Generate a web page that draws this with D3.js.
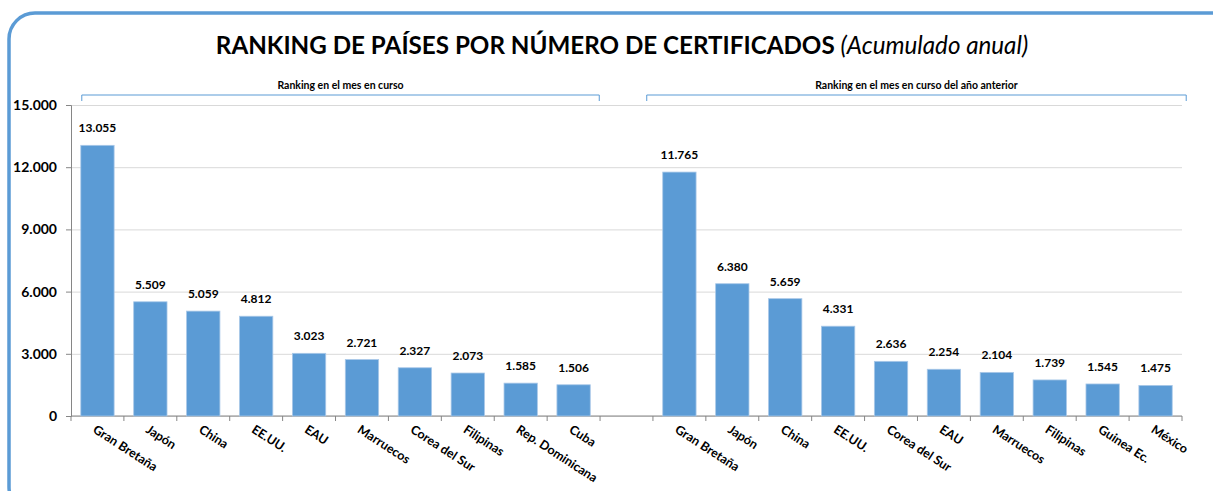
<html>
<head>
  <script src="https://d3js.org/d3.v7.min.js"></script>
  <style>
    body { margin: 0; background: white; }
    text { font-family: Lato, "Open Sans", sans-serif; }
    .gridlines line { stroke: #d9d9d9; }
    .gridlines .domain { stroke: none; }
    .axis path, .axis line { stroke: #868686; }
    .axis text { font-weight: bold; fill: black; }
  </style>
</head>
<body>
<svg id="chart" width="1213" height="491"></svg>
<script>
  // current year ranking
  const countriesNow = ["Gran Bretaña", "Japón", "China", "EE.UU.", "EAU", "Marruecos", "Corea del Sur", "Filipinas", "Rep. Dominicana", "Cuba"];
  const valuesNow = [13055, 5509, 5059, 4812, 3023, 2721, 2327, 2073, 1585, 1506];
  // same month, previous year
  const countriesPrev = ["Gran Bretaña", "Japón", "China", "EE.UU.", "Corea del Sur", "EAU", "Marruecos", "Filipinas", "Guinea Ec.", "México"];
  const valuesPrev = [11765, 6380, 5659, 4331, 2636, 2254, 2104, 1739, 1545, 1475];
  const yTicks = [0, 3000, 6000, 9000, 12000, 15000];
  const groupLabels = ["Ranking en el mes en curso", "Ranking en el mes en curso del año anterior"];

  const svg = d3.select("svg#chart");
  const es = d3.formatLocale({ decimal: ",", thousands: ".", grouping: [3], currency: ["", "€"] });
  const fmt = es.format(",d");

  // one band per bar, plus an empty slot between the two groups
  const rows = [];
  countriesNow.forEach((c, i) => rows.push({ key: "a" + i, name: c, value: valuesNow[i], group: 0 }));
  rows.push({ key: "gap", name: "", value: null, group: -1 });
  countriesPrev.forEach((c, i) => rows.push({ key: "b" + i, name: c, value: valuesPrev[i], group: 1 }));

  const xScale = d3.scaleBand().domain(rows.map(d => d.key)).range([71, 1182]).paddingInner(0.37).paddingOuter(0.185);
  const yScale = d3.scaleLinear().domain([0, 15000]).range([416, 105]);

  // outer rounded frame
  svg.append("rect")
    .attr("x", 9).attr("y", 13)
    .attr("width", 1240).attr("height", 500)
    .attr("rx", 26)
    .attr("fill", "none")
    .attr("stroke", "#5b9bd5")
    .attr("stroke-width", 3.5);

  // title
  const title = svg.append("text")
    .attr("x", 622).attr("y", 54)
    .attr("text-anchor", "middle")
    .style("font-size", "24.2px");
  title.append("tspan").attr("font-weight", "bold").text("RANKING DE PAÍSES POR NÚMERO DE CERTIFICADOS ");
  title.append("tspan").attr("font-style", "italic").text("(Acumulado anual)");

  // gridlines
  svg.append("g")
    .attr("class", "gridlines")
    .attr("transform", "translate(71,0)")
    .call(d3.axisLeft(yScale).tickValues(yTicks).tickSize(-1111).tickFormat(""));

  // y axis
  const yAxis = svg.append("g")
    .attr("class", "axis")
    .attr("transform", "translate(71,0)")
    .call(d3.axisLeft(yScale).tickValues(yTicks).tickSizeOuter(0).tickSize(5).tickPadding(9).tickFormat(fmt));
  yAxis.selectAll("text").style("font-size", "14px");

  // x axis: ticks at band boundaries
  const xAxis = svg.append("g").attr("class", "axis");
  xAxis.append("line")
    .attr("x1", 71).attr("x2", 1182)
    .attr("y1", yScale(0)).attr("y2", yScale(0));
  xAxis.selectAll("line.tick").data(d3.range(rows.length + 1))
    .join("line").attr("class", "tick")
    .attr("x1", i => 71 + i * xScale.step()).attr("x2", i => 71 + i * xScale.step())
    .attr("y1", yScale(0)).attr("y2", yScale(0) + 5);

  const bars = rows.filter(d => d.value !== null);

  svg.selectAll("rect.bar").data(bars)
    .join("rect").attr("class", "bar")
    .attr("x", d => xScale(d.key))
    .attr("width", xScale.bandwidth())
    .attr("y", d => yScale(d.value))
    .attr("height", d => yScale(0) - yScale(d.value))
    .attr("fill", "#5b9bd5")
    .attr("stroke", "#a9c8e8")
    .attr("stroke-width", 0.8);

  svg.selectAll("text.value").data(bars)
    .join("text").attr("class", "value")
    .attr("x", d => xScale(d.key) + xScale.bandwidth() / 2)
    .attr("y", d => yScale(d.value) - 13)
    .attr("text-anchor", "middle")
    .style("font-size", "12px")
    .style("font-weight", "bold")
    .text(d => fmt(d.value));

  svg.selectAll("text.cat").data(bars)
    .join("text").attr("class", "cat")
    .attr("transform", d => `translate(${xScale(d.key) + xScale.bandwidth() / 2 - 3},${yScale(0) + 12}) rotate(33)`)
    .attr("dy", "0.35em")
    .style("font-size", "12.5px")
    .style("font-weight", "bold")
    .text(d => d.name);

  // group brackets above the bars
  const bracketPad = [[1, 9], [-16, 14]];
  [0, 1].forEach(g => {
    const grp = bars.filter(d => d.group === g);
    const x0 = xScale(grp[0].key) + bracketPad[g][0];
    const x1 = xScale(grp[grp.length - 1].key) + xScale.bandwidth() + bracketPad[g][1];
    svg.append("path")
      .attr("d", `M${x0},101 V95 H${x1} V101`)
      .attr("fill", "none")
      .attr("stroke", "#5b9bd5")
      .attr("stroke-width", 1);
    svg.append("text")
      .attr("x", (x0 + x1) / 2).attr("y", 89)
      .attr("text-anchor", "middle")
      .style("font-size", "10.5px")
      .style("font-weight", "bold")
      .text(groupLabels[g]);
  });
</script>
</body>
</html>
